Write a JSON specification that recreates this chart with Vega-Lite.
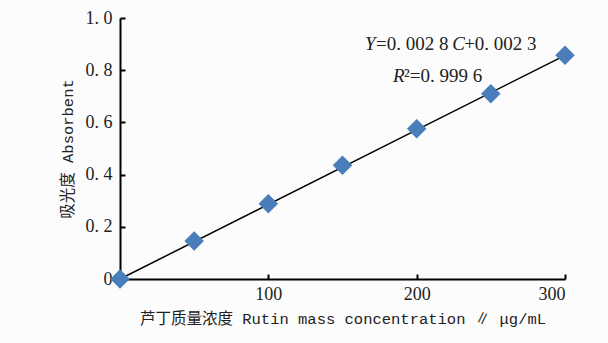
{
  "$schema": "https://vega.github.io/schema/vega-lite/v6.json",
  "width": 445,
  "height": 261,
  "autosize": {"type": "none"},
  "padding": {"left": 120, "top": 18, "right": 43, "bottom": 64},
  "background": "#fcfcfc",
  "config": {
    "view": {"stroke": null},
    "axis": {
      "grid": false,
      "domainColor": "#000000",
      "domainWidth": 2,
      "tickColor": "#000000",
      "tickWidth": 2,
      "tickSize": -5,
      "labelFont": "Liberation Serif",
      "labelFontSize": 18,
      "labelColor": "#222222",
      "titleFont": "Liberation Mono, Noto Sans CJK SC",
      "titleFontSize": 15.5,
      "titleFontWeight": "normal",
      "titleColor": "#222222"
    }
  },
  "datasets": {
    "points": [
      {"c": 0, "a": 0},
      {"c": 50, "a": 0.146},
      {"c": 100, "a": 0.288},
      {"c": 150, "a": 0.436},
      {"c": 200, "a": 0.576},
      {"c": 250, "a": 0.71},
      {"c": 300, "a": 0.857}
    ],
    "fit": [
      {"c": 0, "a": 0},
      {"c": 300, "a": 0.857}
    ],
    "italic": [
      {"c": 165.2, "a": 0.878, "t": "Y"},
      {"c": 224.0, "a": 0.878, "t": "C"},
      {"c": 184.0, "a": 0.756, "t": "R"}
    ],
    "plain": [
      {"c": 172.6, "a": 0.878, "t": "=0. 002 8"},
      {"c": 232.0, "a": 0.878, "t": "+0. 002 3"},
      {"c": 191.5, "a": 0.756, "t": "²=0. 999 6"}
    ]
  },
  "encoding": {
    "x": {
      "field": "c",
      "type": "quantitative",
      "scale": {"domain": [0, 300], "nice": false},
      "axis": {
        "values": [100, 200, 300],
        "format": "d",
        "labelPadding": 11,
        "title": "芦丁质量浓度 Rutin mass concentration ∥ μg/mL",
        "titlePadding": 8
      }
    },
    "y": {
      "field": "a",
      "type": "quantitative",
      "scale": {"domain": [0, 1], "nice": false},
      "axis": {
        "values": [0, 0.2, 0.4, 0.6, 0.8, 1.0],
        "labelExpr": "datum.value == 0 ? '0' : replace(format(datum.value, '.1f'), '.', '. ')",
        "labelPadding": 13,
        "title": "吸光度 Absorbent",
        "titlePadding": 10
      }
    }
  },
  "layer": [
    {
      "data": {"name": "fit"},
      "mark": {"type": "line", "color": "#000000", "strokeWidth": 1.5}
    },
    {
      "data": {"name": "points"},
      "mark": {"type": "point", "shape": "diamond", "filled": true, "size": 380, "color": "#4a7ebb", "opacity": 1}
    },
    {
      "data": {"name": "italic"},
      "mark": {"type": "text", "align": "left", "baseline": "alphabetic", "font": "Liberation Serif", "fontSize": 19, "fontStyle": "italic", "color": "#222222"},
      "encoding": {"text": {"field": "t"}}
    },
    {
      "data": {"name": "plain"},
      "mark": {"type": "text", "align": "left", "baseline": "alphabetic", "font": "Liberation Serif", "fontSize": 19, "color": "#222222"},
      "encoding": {"text": {"field": "t"}}
    }
  ]
}
